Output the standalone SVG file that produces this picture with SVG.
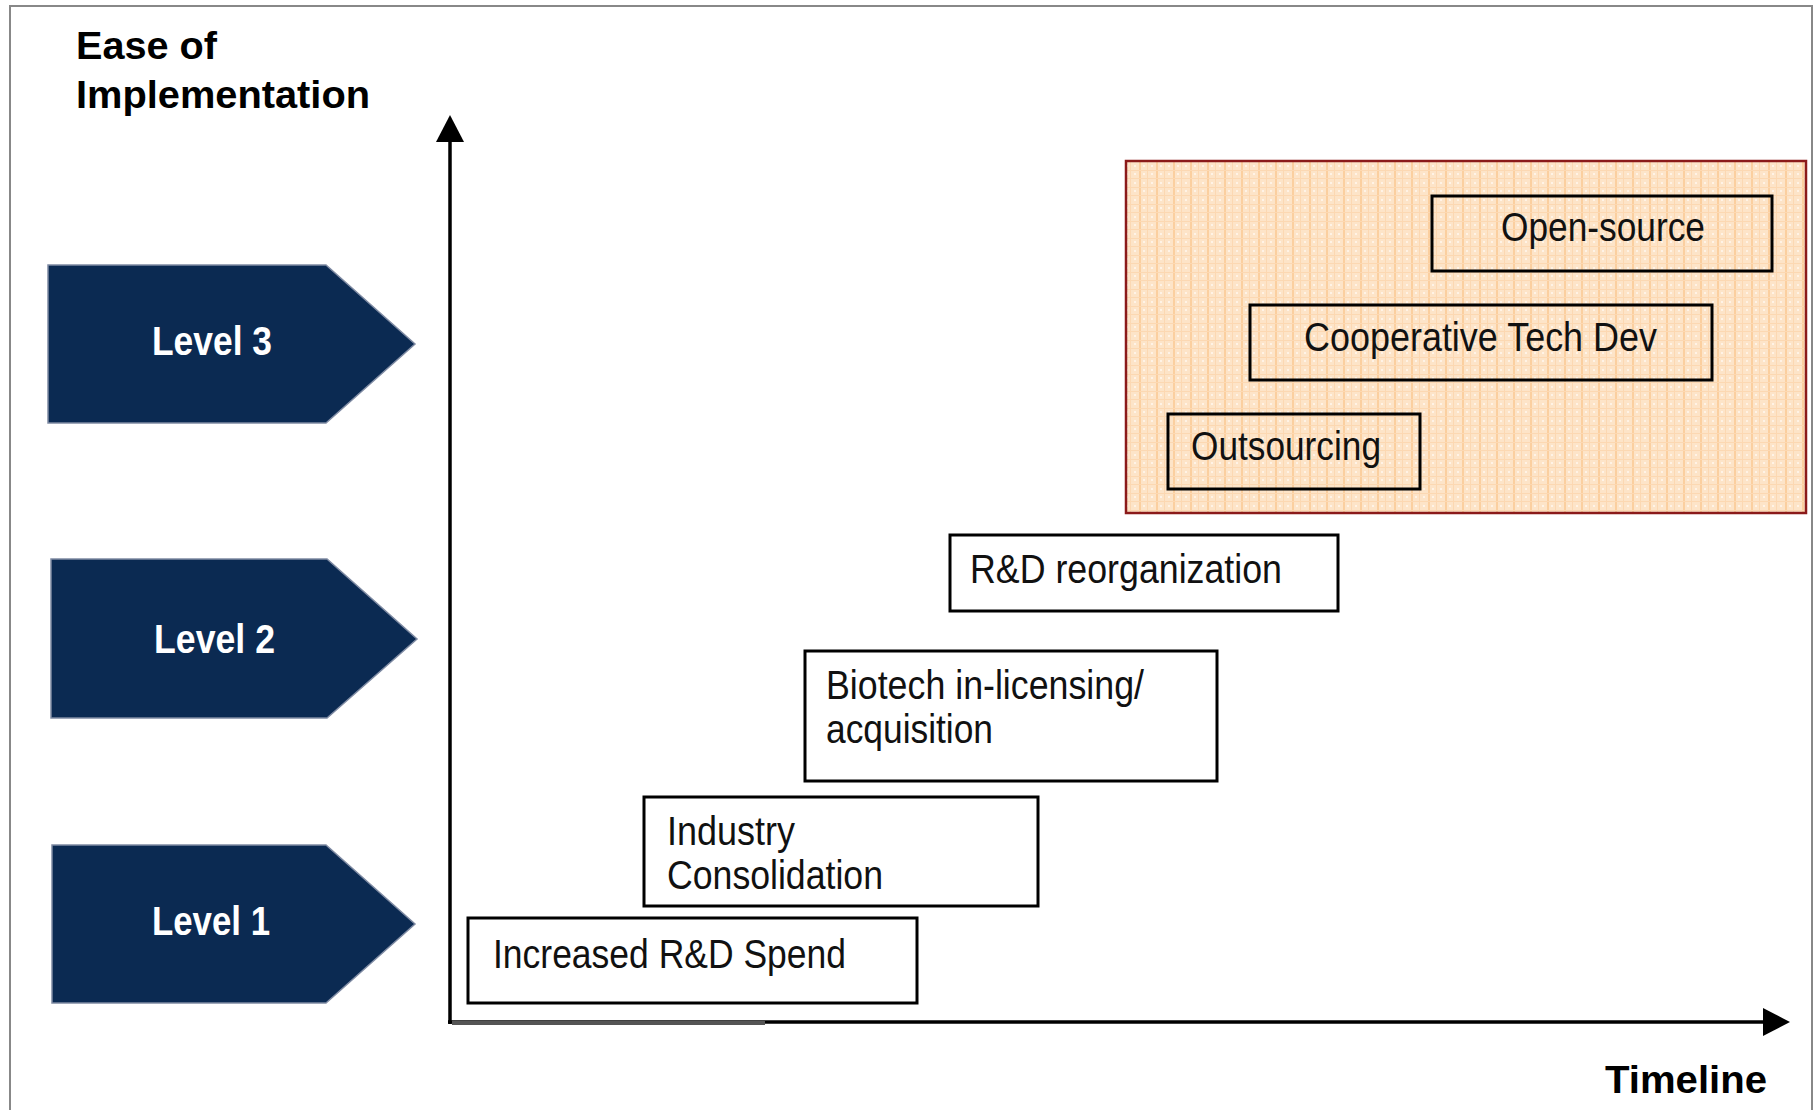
<svg xmlns="http://www.w3.org/2000/svg" width="1817" height="1110" viewBox="0 0 1817 1110">
<style>
.hdr{font-family:"Liberation Sans",Arial,sans-serif;font-weight:bold;font-size:39px;fill:#000}
.lvl{font-family:"Liberation Sans",Arial,sans-serif;font-weight:bold;font-size:40px;fill:#fff}
.chev{fill:#0b2a52;stroke:#7f8ba3;stroke-width:1.5}
.box{fill:none;stroke:#000;stroke-width:3}
.bt{font-family:"Liberation Sans",Arial,sans-serif;font-size:40px;fill:#111}
.axis{stroke:#000;stroke-width:3.5;fill:none}
</style>
<defs>
<pattern id="grid" width="17" height="17" patternUnits="userSpaceOnUse">
<rect width="17" height="17" fill="#fde4c8"/>
<rect x="0" y="0" width="2" height="17" fill="#fbcf9f"/>
<rect x="8" y="0" width="1" height="17" fill="#fcd8b2"/>
<rect x="0" y="0" width="17" height="1" fill="#fcd8b2"/>
<rect x="0" y="8" width="17" height="1" fill="#fcd8b2"/>
<rect x="4" y="3" width="2" height="2" fill="#fff3e6"/>
<rect x="12" y="3" width="2" height="2" fill="#fff3e6"/>
<rect x="4" y="12" width="2" height="2" fill="#fff3e6"/>
<rect x="12" y="12" width="2" height="2" fill="#fff3e6"/>
</pattern>
</defs>
<rect width="1817" height="1110" fill="#fff"/>
<path d="M10,1110 V6 H1812 V1110" fill="none" stroke="#888" stroke-width="2"/>

<g id="title">
<text class="hdr" x="76" y="59" textLength="141" lengthAdjust="spacingAndGlyphs">Ease of</text>
<text class="hdr" x="76" y="108" textLength="294" lengthAdjust="spacingAndGlyphs">Implementation</text>
</g>
<text class="hdr" x="1605" y="1093" font-size="40" textLength="162" lengthAdjust="spacingAndGlyphs">Timeline</text>

<g id="level3">
<polygon class="chev" points="48,265 326,265 415,344 326,423 48,423"/>
<text class="lvl" x="152" y="355" textLength="120" lengthAdjust="spacingAndGlyphs">Level 3</text>
</g>
<g id="level2">
<polygon class="chev" points="51,559 327,559 417,639 327,718 51,718"/>
<text class="lvl" x="154" y="653" textLength="121" lengthAdjust="spacingAndGlyphs">Level 2</text>
</g>
<g id="level1">
<polygon class="chev" points="52,845 326,845 415,924 326,1003 52,1003"/>
<text class="lvl" x="152" y="935" textLength="118" lengthAdjust="spacingAndGlyphs">Level 1</text>
</g>

<g id="level3-zone">
<rect x="1126" y="161" width="680" height="352" fill="url(#grid)" stroke="#8b1a1a" stroke-width="2.5"/>
</g>

<g id="open-source">
<rect class="box" x="1432" y="196" width="340" height="75"/>
<text class="bt" x="1501" y="241" textLength="204" lengthAdjust="spacingAndGlyphs">Open-source</text>
</g>
<g id="cooperative">
<rect class="box" x="1250" y="305" width="462" height="75"/>
<text class="bt" x="1304" y="351" textLength="353" lengthAdjust="spacingAndGlyphs">Cooperative Tech Dev</text>
</g>
<g id="outsourcing">
<rect class="box" x="1168" y="414" width="252" height="75"/>
<text class="bt" x="1191" y="460" textLength="190" lengthAdjust="spacingAndGlyphs">Outsourcing</text>
</g>
<g id="rd-reorg">
<rect class="box" x="950" y="535" width="388" height="76"/>
<text class="bt" x="970" y="583" textLength="312" lengthAdjust="spacingAndGlyphs">R&amp;D reorganization</text>
</g>
<g id="biotech">
<rect class="box" x="805" y="651" width="412" height="130"/>
<text class="bt" x="826" y="699" textLength="318" lengthAdjust="spacingAndGlyphs">Biotech in-licensing/</text>
<text class="bt" x="826" y="743" textLength="167" lengthAdjust="spacingAndGlyphs">acquisition</text>
</g>
<g id="industry">
<rect class="box" x="644" y="797" width="394" height="109"/>
<text class="bt" x="667" y="845" textLength="128" lengthAdjust="spacingAndGlyphs">Industry</text>
<text class="bt" x="667" y="889" textLength="216" lengthAdjust="spacingAndGlyphs">Consolidation</text>
</g>
<g id="increased-rd">
<rect class="box" x="468" y="918" width="449" height="85"/>
<text class="bt" x="493" y="968" textLength="353" lengthAdjust="spacingAndGlyphs">Increased R&amp;D Spend</text>
</g>

<g id="connectors">
<line class="axis" x1="450" y1="138" x2="450" y2="1024"/>
<polygon points="450,115 436,142 464,142" fill="#000"/>
<line class="axis" x1="448" y1="1022" x2="1766" y2="1022"/>
<line x1="452" y1="1023" x2="765" y2="1023" stroke="#555" stroke-width="4"/>
<polygon points="1790,1022 1763,1008 1763,1036" fill="#000"/>
</g>
</svg>
